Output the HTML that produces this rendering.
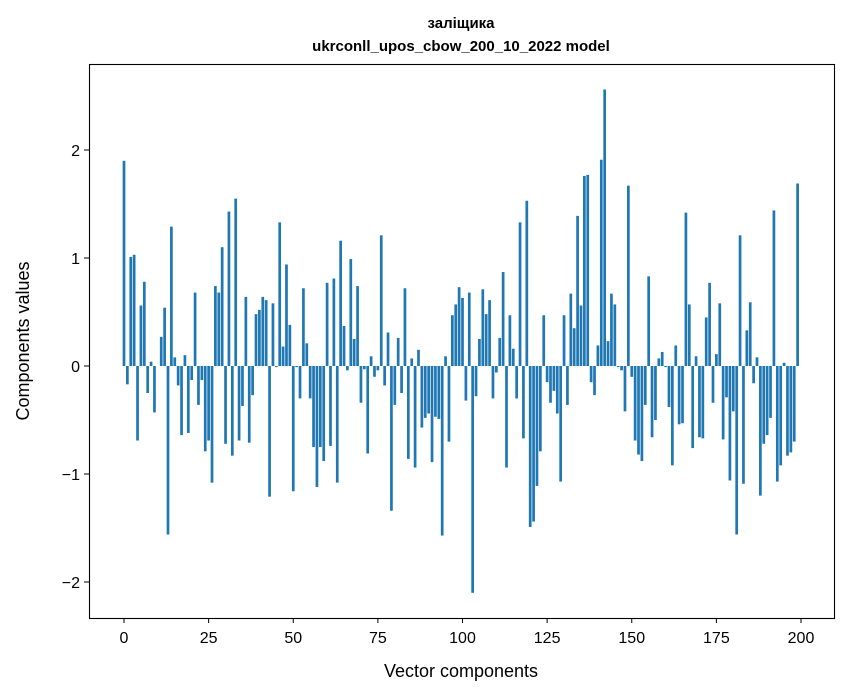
<!DOCTYPE html>
<html><head><meta charset="utf-8"><style>
body{margin:0;background:#fff;}
svg{display:block;font-family:"Liberation Sans","DejaVu Sans",sans-serif;}
</style></head><body>
<svg id="s" width="847" height="696" viewBox="0 0 847 696" xmlns="http://www.w3.org/2000/svg">
<rect width="847" height="696" fill="#fff"/>
<text x="461" y="28" text-anchor="middle" font-size="15" font-weight="bold">заліщика</text>
<text x="461" y="51" text-anchor="middle" font-size="15" font-weight="bold">ukrconll_upos_cbow_200_10_2022 model</text>
<g id="bars" fill="#1f77b4"></g>
<rect x="89.5" y="64.5" width="745" height="554" fill="none" stroke="#000" stroke-width="1.1"/>
<g id="ticks" font-size="16"></g>
<text x="461" y="677" text-anchor="middle" font-size="18">Vector components</text>
<text transform="translate(29,341) rotate(-90)" text-anchor="middle" font-size="18">Components values</text>
</svg>
<script>
var v=[1.90,-0.17,1.01,1.03,-0.69,0.56,0.78,-0.25,0.04,-0.43,0,0.27,0.54,-1.56,1.29,0.08,-0.18,-0.64,0.10,-0.62,-0.13,0.68,-0.36,-0.13,-0.79,-0.69,-1.08,0.74,0.68,1.10,-0.72,1.43,-0.83,1.55,-0.69,-0.37,0.64,-0.71,-0.27,0.48,0.52,0.64,0.61,-1.21,0.58,-0.01,1.33,0.18,0.94,0.38,
-1.16,-0.01,-0.30,0.72,0.21,-0.30,-0.75,-1.12,-0.75,-0.88,0.77,-0.74,0.81,-1.08,1.16,0.37,-0.04,0.99,0.25,0.74,-0.34,-0.03,-0.81,0.09,-0.10,-0.04,1.21,-0.18,0.31,-1.34,-0.36,0.26,-0.25,0.72,-0.86,0.07,-0.94,0.15,-0.57,-0.48,-0.44,-0.89,-0.47,-0.49,-1.57,0.09,-0.70,0.47,0.57,0.73,
0.63,-0.32,0.68,-2.10,-0.28,0.25,0.71,0.48,0.61,-0.30,-0.06,0.26,0.87,-0.94,0.47,0.16,-0.30,1.33,-0.67,1.53,-1.49,-1.44,-1.11,-0.79,0.47,-0.15,-0.34,-0.23,-0.44,-1.07,0.47,-0.36,0.67,0.35,1.39,0.56,1.76,1.77,-0.15,-0.27,0.19,1.91,2.56,0.23,0.67,0.57,-0.01,-0.04,-0.42,1.67,
-0.10,-0.69,-0.82,-0.88,-0.36,0.83,-0.66,-0.50,0.07,0.13,-0.01,-0.38,-0.92,0.19,-0.54,-0.53,1.42,0.57,-0.76,0.09,-0.66,-0.67,0.45,0.77,-0.34,0.11,0.58,-0.68,-0.29,-1.06,-0.42,-1.56,1.21,-1.09,0.33,0.59,-0.16,0.08,-1.20,-0.72,-0.64,-0.48,1.44,-1.07,-0.92,0.03,-0.83,-0.80,-0.70,1.69];
var NS="http://www.w3.org/2000/svg",b=document.getElementById("bars"),t=document.getElementById("ticks");
function X(i){return 124+3.385*i;}function Y(y){return 366-108*y;}
v.forEach(function(y,i){var r=document.createElementNS(NS,"rect");var w=3.385*0.8;
r.setAttribute("x",X(i)-w/2);r.setAttribute("width",w);
r.setAttribute("y",Math.min(Y(y),366));r.setAttribute("height",Math.abs(108*y));b.appendChild(r);});
function el(n,a,txt){var e=document.createElementNS(NS,n);for(var k in a)e.setAttribute(k,a[k]);if(txt!=null)e.textContent=txt;t.appendChild(e);}
[0,25,50,75,100,125,150,175,200].forEach(function(x){var px=X(x);
el("line",{x1:px,x2:px,y1:618,y2:623,stroke:"#000","stroke-width":1});
el("text",{x:px,y:643,"text-anchor":"middle"},String(x));});
[-2,-1,0,1,2].forEach(function(y){var py=Y(y);
el("line",{x1:84,x2:89,y1:py,y2:py,stroke:"#000","stroke-width":1});
el("text",{x:80,y:py+6,"text-anchor":"end"},(y<0?"\u2212":"")+Math.abs(y));});
</script>
</body></html>
